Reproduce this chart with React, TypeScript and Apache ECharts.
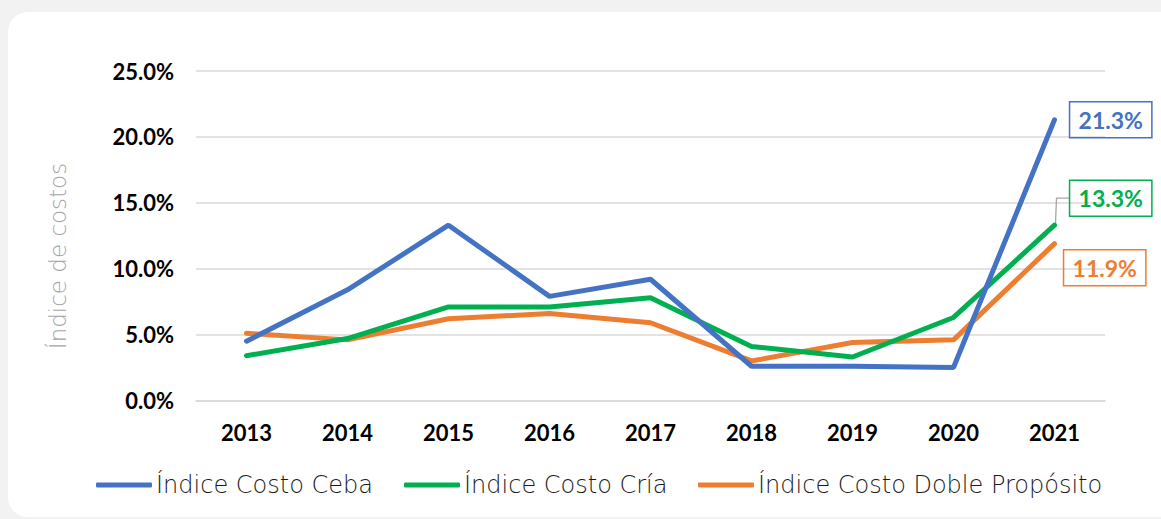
import React, { useEffect, useRef } from "react";
import * as echarts from "echarts";

const years = ["2013", "2014", "2015", "2016", "2017", "2018", "2019", "2020", "2021"];
const seriesNames = ["Índice Costo Ceba", "Índice Costo Cría", "Índice Costo Doble Propósito"];
const ceba = [4.5, 8.4, 13.3, 7.9, 9.2, 2.6, 2.6, 2.5, 21.3];
const cria = [3.4, 4.7, 7.1, 7.1, 7.8, 4.1, 3.3, 6.3, 13.3];
const doble = [5.1, 4.6, 6.2, 6.6, 5.9, 3.0, 4.4, 4.6, 11.9];
const colors = ["#4472C4", "#00B050", "#ED7D31"];
const yAxisTitle = "Índice de costos";

const BOLD = "Lato, 'DejaVu Sans', sans-serif";
const THIN = "'DejaVu Sans', Lato, sans-serif";

function buildData(values: number[], color: string) {
  return values.map((v, i) => {
    if (i === values.length - 1) {
      return {
        value: v,
        symbol: "circle",
        symbolSize: 0.1,
        label: {
          show: true,
          formatter: (p: any) => Number(p.value).toFixed(1) + "%",
          color,
          fontFamily: BOLD,
          fontWeight: "bold",
          fontSize: 23,
          lineHeight: 23,
          borderColor: color,
          borderWidth: 1.5,
          padding: [7, 9, 6, 9],
        },
      };
    }
    return { value: v, symbol: "none" };
  });
}

export default function App() {
  const ref = useRef<HTMLDivElement>(null);

  useEffect(() => {
    document.body.style.margin = "0";
    if (!ref.current) return;
    const chart = echarts.init(ref.current, undefined, { renderer: "svg" });
    const allValues = [ceba, cria, doble];
    const labelCfg = [
      { distance: 15, dy: 0 },
      { distance: 15, dy: -27 },
      { distance: 9, dy: 24 },
    ];
    const legendLefts = [96, 404, 698];
    chart.setOption({
      animation: false,
      backgroundColor: "transparent",
      grid: { left: 196, right: 56, top: 71, bottom: 118.5 },
      graphic: [
        {
          type: "text",
          x: 58,
          y: 256,
          rotation: Math.PI / 2,
          style: {
            text: yAxisTitle,
            align: "center",
            verticalAlign: "middle",
            fontFamily: THIN,
            fontWeight: 300,
            fontSize: 23,
            fill: "#a6a6a6",
          },
        },
      ],
      legend: seriesNames.map((n, i) => ({
        data: [n],
        left: legendLefts[i],
        top: 473,
        padding: 0,
        itemWidth: 56,
        itemHeight: 5,
        icon: "roundRect",
        textStyle: {
          fontFamily: THIN,
          fontWeight: 300,
          fontSize: 24,
          color: "#1a1a1a",
          padding: [0, 0, 0, -1],
        },
      })),
      xAxis: {
        type: "category",
        data: years,
        boundaryGap: true,
        axisLine: { show: true, lineStyle: { color: "#d9d9d9", width: 1.5 } },
        axisTick: { show: false },
        axisLabel: {
          margin: 21,
          color: "#000",
          fontFamily: BOLD,
          fontWeight: "bold",
          fontSize: 22,
        },
      },
      yAxis: {
        type: "value",
        min: 0,
        max: 25,
        interval: 5,
        axisLine: { show: false },
        axisTick: { show: false },
        splitLine: { lineStyle: { color: "#d9d9d9", width: 1.5 } },
        axisLabel: {
          margin: 22,
          color: "#000",
          fontFamily: BOLD,
          fontWeight: "bold",
          fontSize: 22,
          formatter: (v: number) => v.toFixed(1) + "%",
        },
      },
      series: allValues.map((vals, i) => ({
        name: seriesNames[i],
        type: "line",
        data: buildData(vals, colors[i]),
        color: colors[i],
        showSymbol: true,
        lineStyle: { width: 5, color: colors[i], cap: "round" },
        itemStyle: { color: colors[i] },
        label: { position: "right", distance: labelCfg[i].distance },
        labelLayout: { dy: labelCfg[i].dy },
        emphasis: { disabled: true },
        z: 3 - i,
      })),
    });

    // leader line for the "Cría" label, positioned through the chart's own scales
    const last = cria.length - 1;
    const pt = chart.convertToPixel({ gridIndex: 0 }, [last, cria[last]]) as number[];
    if (pt) {
      const [px, py] = pt;
      const ly = py + labelCfg[1].dy;
      chart.setOption({
        graphic: [
          {
            type: "text",
            x: 58,
            y: 256,
            rotation: Math.PI / 2,
            style: {
              text: yAxisTitle,
              align: "center",
              verticalAlign: "middle",
              fontFamily: THIN,
              fontWeight: 300,
              fontSize: 23,
              fill: "#a6a6a6",
            },
          },
          {
            type: "polyline",
            z: 1,
            shape: {
              points: [
                [px + 1, py - 2],
                [px + 2, ly],
                [px + labelCfg[1].distance, ly],
              ],
            },
            style: { stroke: "#a6a6a6", lineWidth: 1.3, fill: "none" },
          },
        ],
      });
    }
    return () => chart.dispose();
  }, []);

  return (
    <div
      style={{
        position: "relative",
        width: 1161,
        height: 519,
        background: "#f2f2f2",
        overflow: "hidden",
      }}
    >
      <div
        style={{
          position: "absolute",
          left: 8,
          top: 12,
          width: 1200,
          height: 505,
          background: "#ffffff",
          borderRadius: 20,
        }}
      />
      <div
        ref={ref}
        style={{ position: "absolute", left: 0, top: 0, width: 1161, height: 519 }}
      />
    </div>
  );
}
